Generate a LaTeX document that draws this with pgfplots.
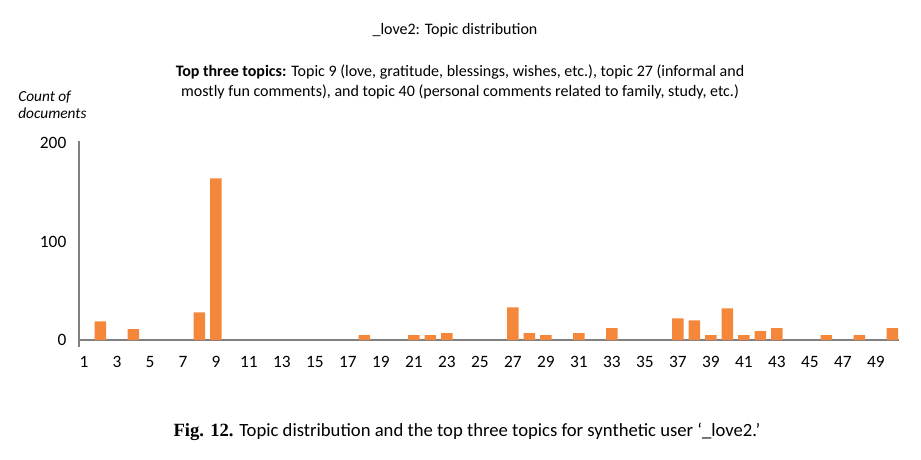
\documentclass[border=0pt]{standalone}
\usepackage{fontspec}
\setmainfont{Carlito}
\newfontfamily\capserif{Liberation Serif}
\usepackage{pgfplots}
\pgfplotsset{compat=1.18}
\definecolor{barorange}{RGB}{245,135,58}
\definecolor{axgray}{RGB}{128,128,130}
\begin{document}
\begin{tikzpicture}
\useasboundingbox (0pt,0pt) rectangle (690.75pt,345pt);
\begin{axis}[
    at={(59.25pt,84.75pt)},
    anchor=south west,
    scale only axis,
    width=615pt,
    height=154.5pt,
    axis x line=middle,
    axis y line=left,
    axis line style={-, axgray, line width=1.5pt},
    xmin=0.7, xmax=50.4,
    ymin=-7.1, ymax=202,
    xtick={1,3,...,49},
    ytick={0,100,200},
    major tick length=0pt,
    tick label style={font=\fontsize{13}{15}\selectfont},
    xticklabel style={yshift=-9pt},
    yticklabel style={xshift=-6pt},
    /pgf/number format/assume math mode=true,
    clip=false,
]
\addplot[ybar, bar width=0.7, fill=barorange, draw=none] coordinates {
    (2,19) (4,11) (8,28) (9,164) (18,5) (21,5) (22,5) (23,7)
    (27,33) (28,7) (29,5) (31,7) (33,12) (37,22) (38,20) (39,5)
    (40,32) (41,5) (42,9) (43,12) (46,5) (48,5) (50,12)
};
\end{axis}
\node[font=\fontsize{12}{14}\selectfont] at (341.25pt,322.5pt) {\_love2: Topic distribution};
\node[font=\fontsize{12}{15}\selectfont, align=center] at (345pt,283.5pt)
    {\textbf{Top three topics:} Topic 9 (love, gratitude, blessings, wishes, etc.), topic 27 (informal and\\
     mostly fun comments), and topic 40 (personal comments related to family, study, etc.)};
\node[font=\fontsize{11.5}{12.75}\selectfont\itshape, align=left, anchor=west, inner sep=0pt] at (13.5pt,266.25pt)
    {Count of\\documents};
\node[font=\fontsize{14}{16}\selectfont] at (350.25pt,21pt)
    {{\capserif\bfseries Fig. 12.} Topic distribution and the top three topics for synthetic user ‘\_love2.’};
\end{tikzpicture}
\end{document}
